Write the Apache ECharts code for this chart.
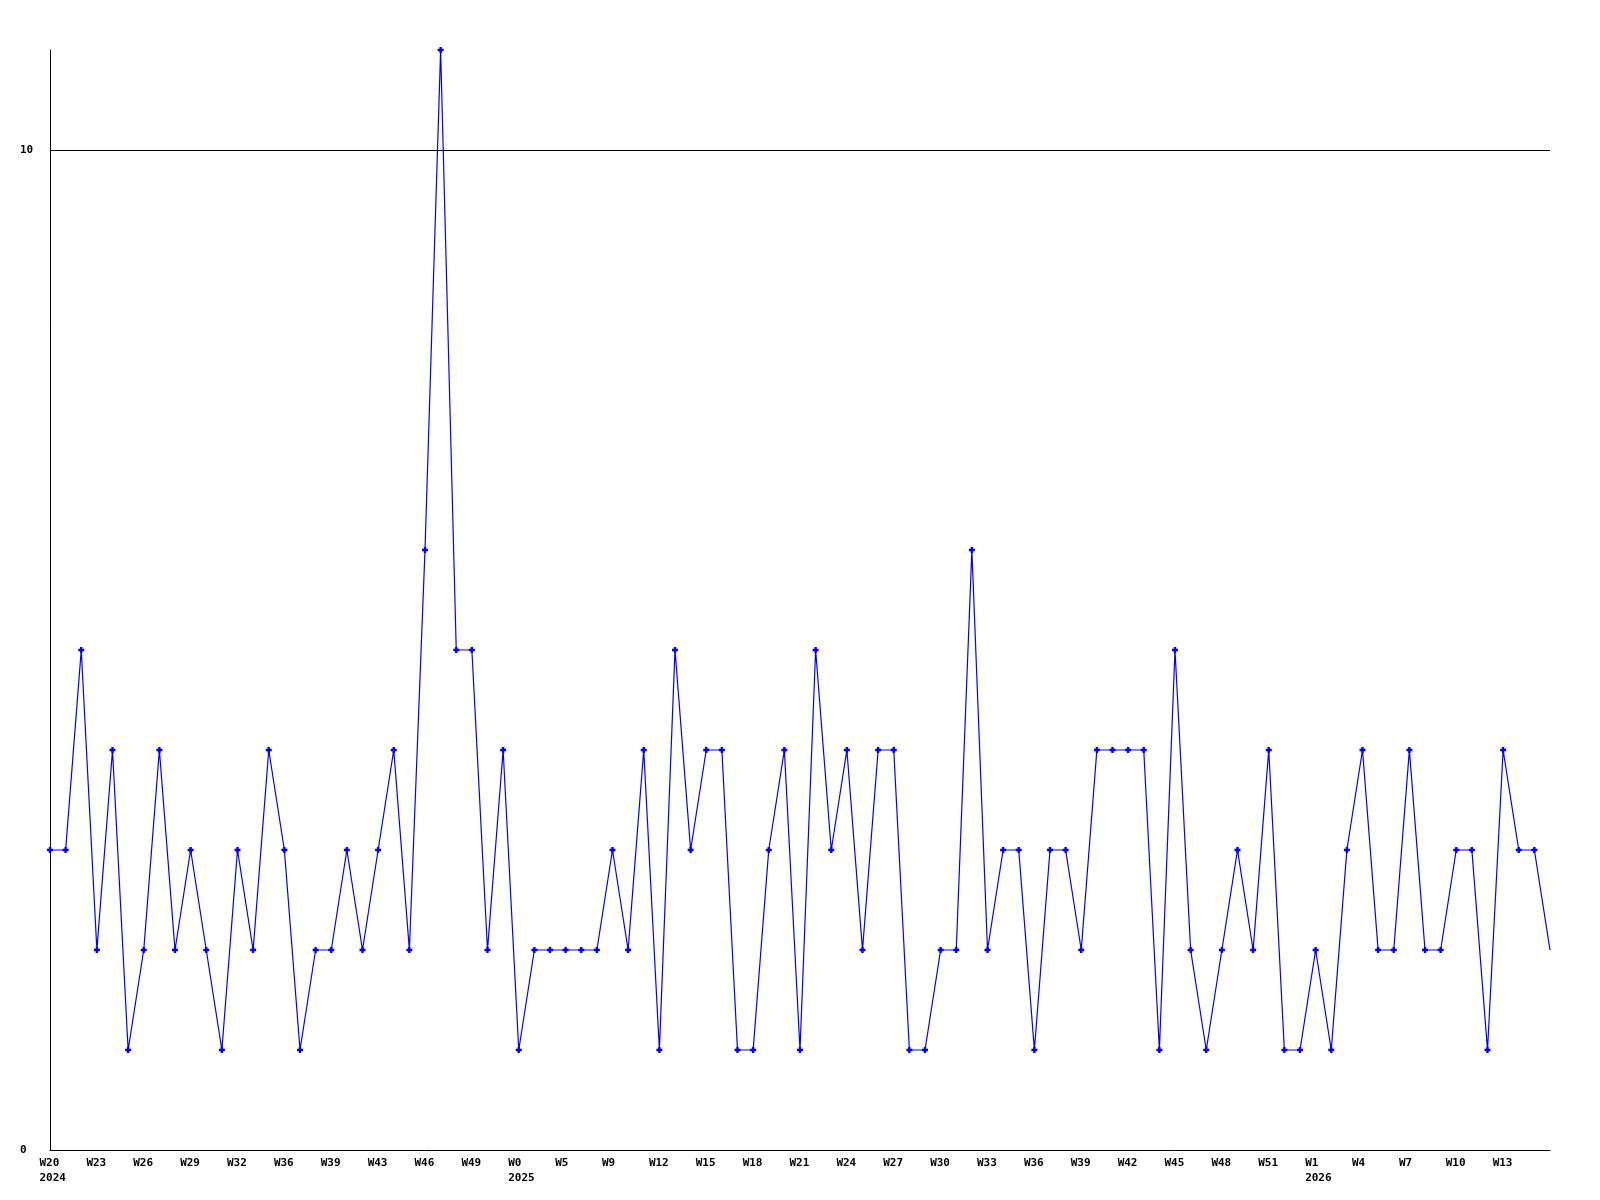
<!DOCTYPE html>
<html>
<head>
<meta charset="utf-8">
<script src="https://cdn.jsdelivr.net/npm/echarts@6/dist/echarts.min.js"></script>
<style>
  html, body { margin: 0; padding: 0; background: #fff; }
  #chart { width: 1600px; height: 1200px; }
</style>
</head>
<body>
<div id="chart"></div>
<script>
// weekly counts, one point per week
const counts = [
  3, 3, 5, 2, 4, 1, 2, 4, 2, 3, 2, 1, 3, 2, 4, 3, 1, 2, 2, 3,
  2, 3, 4, 2, 6, 11, 5, 5, 2, 4, 1, 2, 2, 2, 2, 2, 3, 2, 4, 1,
  5, 3, 4, 4, 1, 1, 3, 4, 1, 5, 3, 4, 2, 4, 4, 1, 1, 2, 2, 6,
  2, 3, 3, 1, 3, 3, 2, 4, 4, 4, 4, 1, 5, 2, 1, 2, 3, 2, 4, 1,
  1, 2, 1, 3, 4, 2, 2, 4, 2, 2, 3, 3, 1, 4, 3, 3, 2
];
// tick labels, one every 3 weeks
const weekLabels = [
  'W20', 'W23', 'W26', 'W29', 'W32', 'W36', 'W39', 'W43', 'W46', 'W49',
  'W0', 'W5', 'W9', 'W12', 'W15', 'W18', 'W21', 'W24', 'W27', 'W30',
  'W33', 'W36', 'W39', 'W42', 'W45', 'W48', 'W51', 'W1', 'W4', 'W7',
  'W10', 'W13'
];
const yearLabels = [
  '2024', '', '', '', '', '', '', '', '', '',
  '2025', '', '', '', '', '', '', '', '', '',
  '', '', '', '', '', '', '', '2026', '', '',
  '', ''
];

const font = 'DejaVu Sans Mono';
const cross = 'path://M1.5,0H3.5V1.5H5V3.5H3.5V5H1.5V3.5H0V1.5H1.5Z';
const chart = echarts.init(document.getElementById('chart'));

chart.setOption({
  animation: false,
  grid: { left: 50, right: 50, top: 50, bottom: 50, containLabel: false },
  xAxis: {
    type: 'value',
    min: 0,
    max: counts.length - 1,
    interval: 3,
    axisLine: { show: true, lineStyle: { color: '#000', width: 1 } },
    axisTick: { show: false },
    splitLine: { show: false },
    axisLabel: {
      margin: 6,
      align: 'center',
      showMaxLabel: false,
      formatter: function (v) {
        const i = Math.round(v / 3);
        if (i >= weekLabels.length) return '';
        let s = '{w|' + weekLabels[i] + '}';
        if (yearLabels[i]) s += '\n{w|' + yearLabels[i] + '}';
        return s;
      },
      rich: {
        w: {
          width: 21,
          align: 'left',
          fontFamily: font,
          fontWeight: 'bold',
          fontSize: 11,
          lineHeight: 15,
          color: '#000'
        }
      }
    }
  },
  yAxis: {
    type: 'value',
    min: 0,
    max: 11,
    interval: 10,
    axisLine: { show: true, lineStyle: { color: '#000', width: 1 } },
    axisTick: { show: false },
    splitLine: {
      show: true,
      showMinLine: false,
      showMaxLine: false,
      lineStyle: { color: '#000', width: 1 }
    },
    axisLabel: {
      margin: 30,
      align: 'left',
      showMaxLabel: false,
      fontFamily: font,
      fontWeight: 'bold',
      fontSize: 11,
      color: '#000',
      formatter: function (v) { return v % 10 === 0 ? String(v) : ''; }
    }
  },
  series: [
    {
      type: 'line',
      data: counts.map((v, i) => [i, v]),
      // small blue cross at each week, none on the last (cut off at the edge)
      symbol: function (val, params) {
        return params.dataIndex === counts.length - 1 ? 'none' : cross;
      },
      symbolSize: 6,
      showAllSymbol: true,
      clip: true,
      lineStyle: { color: '#0000ff', width: 1.2 },
      itemStyle: { color: '#0000ff' }
    }
  ]
});
</script>
</body>
</html>
